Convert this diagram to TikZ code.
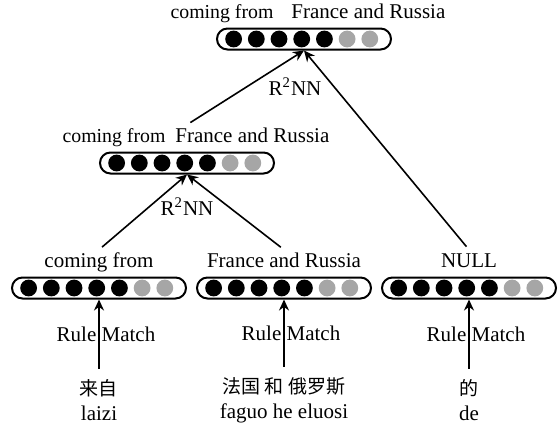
\documentclass[tikz,border=0pt]{standalone}
\usepackage{fontspec}
\setmainfont{Liberation Serif}
\newfontfamily\zhfont{Noto Sans CJK SC}
\usetikzlibrary{positioning, calc, arrows.meta, shapes.misc}

\begin{document}
\begin{tikzpicture}[
    x=0.5pt, y=-0.5pt,
    font=\fontsize{10.5}{12.6}\selectfont,
    vec/.style={rounded rectangle, draw=black, line width=1pt, minimum width=87pt, minimum height=10.5pt, inner sep=0pt},
    unit/.style={circle, fill=black, minimum size=8.4pt, inner sep=0pt},
    tag/.style={inner sep=1pt, text height=0.75em, text depth=0.25em},
    src/.style={align=center, inner sep=5pt},
    arrow/.style={-{Stealth[length=5.5pt, width=5pt]}, line width=0.8pt}
]
    \useasboundingbox (0,0) rectangle (559,429);

    % Vectors
    \foreach \name/\x/\y in {top/304/39, mid/187/163, cf/99/288, fr/284/288, null/469/288} {
        \node[vec] (v-\name) at (\x,\y) {};
        \foreach \i/\c in {1/black,2/black,3/black,4/black,5/black,6/black!35,7/black!35} {
            \node[unit, fill=\c, xshift={(\i-4.1)*11.35pt}] (\name-\i) at (v-\name) {};
        }
    }

    % Labels
    \node[tag, above=1pt of v-cf] (l-cf) {coming from};
    \node[tag, above=1pt of v-fr] (l-fr) {France and Russia};
    \node[tag, above=1pt of v-null] (l-null) {NULL};
    \node[tag, above=1pt of v-mid, xshift=4.5pt] (l-mid) {{\fontsize{9.9}{11}\selectfont coming from}\hspace{5pt}France and Russia};
    \node[tag, above=1pt of v-top, xshift=2pt] (l-top) {{\fontsize{9.9}{11}\selectfont coming from}\hspace{9pt}France and Russia};

    % Source words
    \node[src] (s-cf) at (99,400) {{\zhfont\fontsize{9.5}{12}\selectfont 来自}\\laizi};
    \node[src] (s-fr) at (284,400) {{\zhfont\fontsize{9.5}{12}\selectfont 法国 和 俄罗斯}\\faguo he eluosi};
    \node[src] (s-null) at (469,400) {{\zhfont\fontsize{9.5}{12}\selectfont 的}\\de};

    % Rule matching
    \foreach \name in {cf, fr, null} {
        \draw[arrow] (s-\name) -- node[xshift=3.5pt] (rm-\name) {Rule Match} (v-\name);
    }

    % Composition
    \draw[arrow, shorten <=2pt] (v-cf |- l-cf.north) -- (v-mid.south);
    \draw[arrow, shorten <=2pt] (v-fr |- l-fr.north) -- (v-mid.south);
    \draw[arrow, shorten <=2pt] (v-mid |- l-mid.north) -- (v-top.south);
    \draw[arrow, shorten <=2pt] (v-null |- l-null.north) -- (v-top.south);

    \node (r-mid) at (187,207) {R\textsuperscript{2}NN};
    \node (r-top) at (295,87) {R\textsuperscript{2}NN};

\end{tikzpicture}
\end{document}
